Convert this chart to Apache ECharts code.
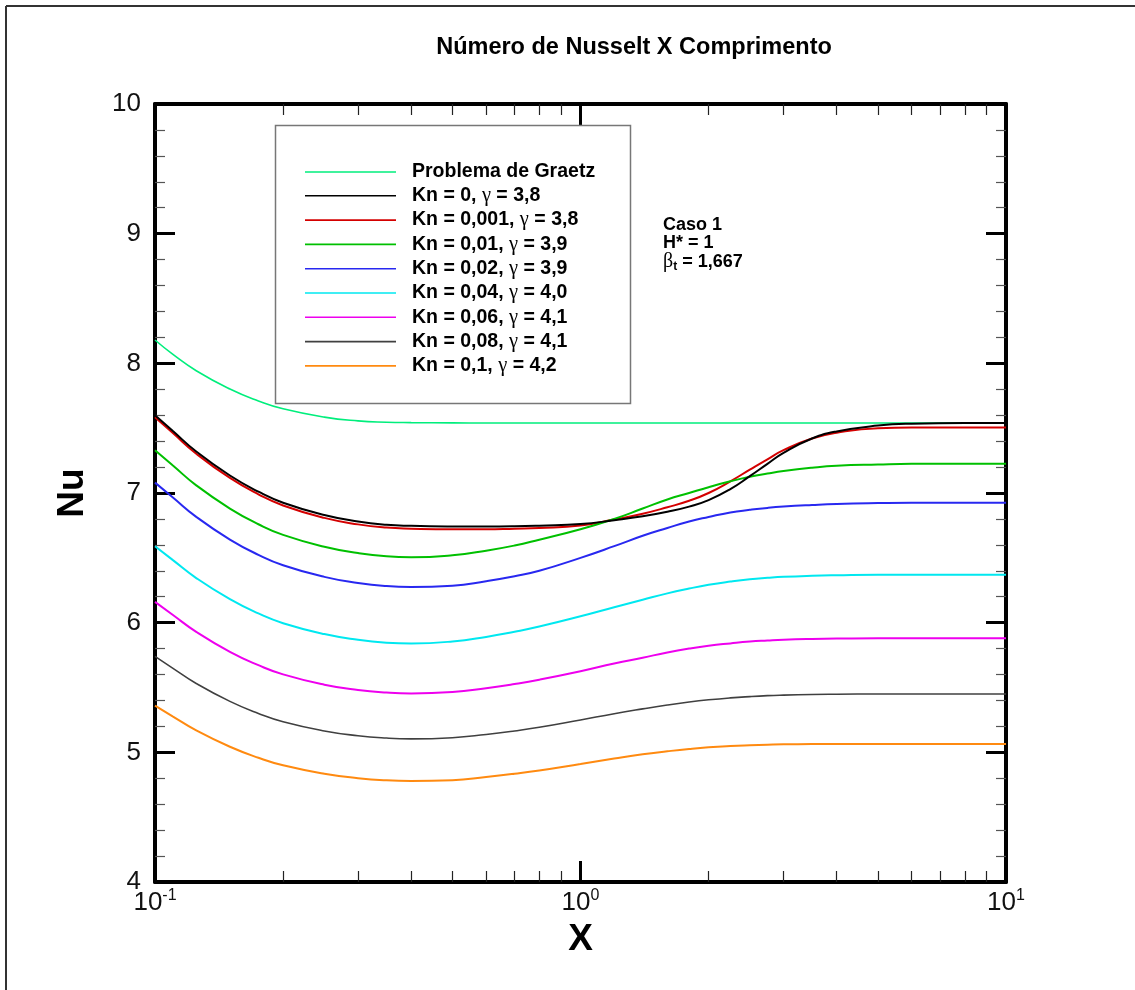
<!DOCTYPE html>
<html>
<head>
<meta charset="utf-8">
<script src="https://cdn.jsdelivr.net/npm/echarts@6/dist/echarts.min.js"></script>
<style>
  html, body { margin: 0; padding: 0; background: #ffffff; }
  #chart { width: 1135px; height: 990px; }
</style>
</head>
<body>
<div id="chart"></div>
<script>
// Axial positions X (log scale) shared by every curve
const xValues = [0.1, 0.11, 0.125, 0.15, 0.175, 0.2, 0.25, 0.3, 0.35, 0.4, 0.5, 0.6, 0.7, 0.8, 1,
                 1.2, 1.4, 1.6, 1.8, 2, 2.25, 2.5, 2.75, 3, 3.5, 4, 5, 6, 8, 10];

// Local Nusselt number for each case
const nuGraetz = [8.18, 8.071, 7.943, 7.802, 7.71, 7.649, 7.585, 7.556, 7.546, 7.543, 7.541, 7.54, 7.54, 7.54, 7.54,
                  7.54, 7.54, 7.54, 7.54, 7.54, 7.54, 7.54, 7.54, 7.54, 7.54, 7.54, 7.54, 7.54, 7.54, 7.54];
const nuKn0    = [7.60, 7.48, 7.32, 7.135, 7.01, 6.925, 6.83, 6.78, 6.755, 6.747, 6.742, 6.741, 6.743, 6.748, 6.76,
                  6.79, 6.82, 6.855, 6.895, 6.945, 7.03, 7.13, 7.225, 7.31, 7.42, 7.475, 7.52, 7.535, 7.54, 7.54];
const nuKn0001 = [7.585, 7.464, 7.303, 7.116, 6.99, 6.904, 6.808, 6.758, 6.733, 6.725, 6.72, 6.72, 6.725, 6.73, 6.75,
                  6.795, 6.84, 6.89, 6.94, 7.00, 7.09, 7.18, 7.26, 7.33, 7.42, 7.465, 7.50, 7.505, 7.505, 7.505];
const nuKn001  = [7.33, 7.214, 7.059, 6.88, 6.759, 6.677, 6.585, 6.537, 6.512, 6.505, 6.52, 6.555, 6.595, 6.64, 6.72,
                  6.80, 6.88, 6.95, 7.00, 7.045, 7.09, 7.125, 7.15, 7.17, 7.195, 7.21, 7.22, 7.225, 7.225, 7.225];
const nuKn002  = [7.08, 6.967, 6.816, 6.641, 6.523, 6.443, 6.353, 6.306, 6.282, 6.275, 6.285, 6.32, 6.358, 6.40, 6.50,
                  6.59, 6.67, 6.73, 6.78, 6.815, 6.85, 6.87, 6.885, 6.895, 6.907, 6.915, 6.922, 6.925, 6.925, 6.925];
const nuKn004  = [6.59, 6.484, 6.344, 6.181, 6.071, 5.996, 5.912, 5.868, 5.846, 5.84, 5.855, 5.89, 5.93, 5.97, 6.049,
                  6.119, 6.177, 6.226, 6.263, 6.292, 6.317, 6.335, 6.346, 6.354, 6.362, 6.366, 6.37, 6.37, 6.37, 6.37];
const nuKn006  = [6.16, 6.061, 5.929, 5.775, 5.672, 5.601, 5.522, 5.481, 5.461, 5.454, 5.465, 5.495, 5.527, 5.56, 5.625,
                  5.685, 5.73, 5.77, 5.80, 5.822, 5.84, 5.854, 5.862, 5.868, 5.874, 5.877, 5.88, 5.88, 5.88, 5.88];
const nuKn008  = [5.74, 5.65, 5.531, 5.393, 5.30, 5.236, 5.165, 5.128, 5.11, 5.104, 5.113, 5.138, 5.165, 5.193, 5.25,
                  5.298, 5.335, 5.365, 5.388, 5.405, 5.42, 5.43, 5.437, 5.441, 5.446, 5.448, 5.45, 5.45, 5.45, 5.45];
const nuKn01   = [5.36, 5.278, 5.169, 5.043, 4.958, 4.90, 4.835, 4.801, 4.784, 4.779, 4.785, 4.81, 4.835, 4.86, 4.91,
                  4.952, 4.985, 5.008, 5.026, 5.039, 5.049, 5.055, 5.059, 5.062, 5.064, 5.065, 5.065, 5.065, 5.065, 5.065];

const seriesNames = [
  'Problema de Graetz',
  'Kn = 0, γ = 3,8',
  'Kn = 0,001, γ = 3,8',
  'Kn = 0,01, γ = 3,9',
  'Kn = 0,02, γ = 3,9',
  'Kn = 0,04, γ = 4,0',
  'Kn = 0,06, γ = 4,1',
  'Kn = 0,08, γ = 4,1',
  'Kn = 0,1, γ = 4,2'
];
const seriesValues = [nuGraetz, nuKn0, nuKn0001, nuKn001, nuKn002, nuKn004, nuKn006, nuKn008, nuKn01];
const seriesColors = ['#00ee7c', '#000000', '#d40000', '#00c000', '#2828f0', '#00e8f0', '#ee00ee', '#404040', '#ff8a10'];
const seriesWidths = [1.6, 2, 2, 2, 2, 2, 2, 1.6, 2];

// Axis ranges; X minor ticks at 2..9 of each decade
const xMin = 0.1, xMax = 10;
const yMin = 4, yMax = 10;
const minorX = [];
[0.1, 1].forEach(function (d) {
  for (let k = 2; k <= 9; k++) minorX.push(+(k * d).toFixed(2));
});

const FONT = '"Liberation Sans", Arial, Helvetica, sans-serif';
const SERIF = '"Liberation Serif", "DejaVu Serif", serif';

const chart = echarts.init(document.getElementById('chart'), null, { renderer: 'canvas' });

const axisLineStyle = { color: '#000', width: 4 };

function xAxisBase(position) {
  return {
    type: 'log',
    logBase: 10,
    min: xMin,
    max: xMax,
    position: position,
    gridIndex: 0,
    splitLine: { show: false },
    axisLine: { show: true, lineStyle: axisLineStyle }
  };
}

const xAxes = [
  Object.assign(xAxisBase('bottom'), {
    name: 'X',
    nameLocation: 'middle',
    nameGap: 23,
    nameTextStyle: { fontFamily: FONT, fontWeight: 'bold', fontSize: 37, color: '#000' },
    axisTick: { show: true, inside: true, length: 21, lineStyle: { color: '#000', width: 3 } },
    axisLabel: {
      show: true,
      margin: 6,
      formatter: function (v) {
        return '10{s|' + Math.round(Math.log10(v)) + '}';
      },
      fontFamily: FONT,
      fontSize: 26,
      color: '#111',
      rich: {
        s: { fontFamily: FONT, fontSize: 16, color: '#111', padding: [0, 0, 14, 0] }
      }
    }
  }),
  Object.assign(xAxisBase('bottom'), {
    axisLine: { show: false },
    axisTick: { show: true, inside: true, length: 11, customValues: minorX, lineStyle: { color: '#222', width: 1.2 } },
    axisLabel: { show: false }
  }),
  Object.assign(xAxisBase('top'), {
    axisTick: { show: true, inside: true, length: 21, lineStyle: { color: '#000', width: 3 } },
    axisLabel: { show: false }
  }),
  Object.assign(xAxisBase('top'), {
    axisLine: { show: false },
    axisTick: { show: true, inside: true, length: 11, customValues: minorX, lineStyle: { color: '#222', width: 1.2 } },
    axisLabel: { show: false }
  })
];

function yAxisBase(position) {
  return {
    type: 'value',
    min: yMin,
    max: yMax,
    interval: 1,
    position: position,
    gridIndex: 0,
    splitLine: { show: false },
    axisLine: { show: true, lineStyle: axisLineStyle },
    axisTick: { show: true, inside: true, length: 20, lineStyle: { color: '#000', width: 3 } },
    minorTick: { show: true, splitNumber: 5, length: 10, lineStyle: { color: '#555', width: 1.2 } }
  };
}

const yAxes = [
  Object.assign(yAxisBase('left'), {
    name: 'Nu',
    nameLocation: 'middle',
    nameRotate: 90,
    nameGap: 64,
    nameTextStyle: { fontFamily: FONT, fontWeight: 'bold', fontSize: 37, color: '#000' },
    axisLabel: { show: true, margin: 14, fontFamily: FONT, fontSize: 26, color: '#111' }
  }),
  Object.assign(yAxisBase('right'), {
    axisLabel: { show: false }
  })
];

const series = seriesNames.map(function (name, i) {
  return {
    name: name,
    type: 'line',
    xAxisIndex: 0,
    yAxisIndex: 0,
    smooth: 0.5,
    symbol: 'none',
    showSymbol: false,
    z: 2 + (i === 1 ? 1 : 0),
    lineStyle: { color: seriesColors[i], width: seriesWidths[i] },
    itemStyle: { color: seriesColors[i] },
    data: xValues.map(function (x, j) { return [x, seriesValues[i][j]]; })
  };
});

chart.setOption({
  animation: false,
  backgroundColor: '#ffffff',
  title: {
    text: 'Número de Nusselt X Comprimento',
    left: 629,
    top: 31,
    textAlign: 'center',
    textStyle: { fontFamily: FONT, fontWeight: 'bold', fontSize: 23.5, color: '#000' }
  },
  grid: { left: 155, right: 129, top: 104, bottom: 108, containLabel: false },
  xAxis: xAxes,
  yAxis: yAxes,
  legend: {
    orient: 'vertical',
    left: 305,
    top: 162,
    padding: 0,
    icon: 'rect',
    itemWidth: 91,
    itemHeight: 1.6,
    itemGap: 3.3,
    z: 10,
    data: seriesNames,
    formatter: function (name) {
      return name.replace('γ', '{g|γ}');
    },
    textStyle: {
      fontFamily: FONT,
      fontWeight: 'bold',
      fontSize: 19.5,
      lineHeight: 20,
      color: '#000',
      padding: [0, 0, 0, 11],
      rich: {
        g: { fontFamily: SERIF, fontWeight: 'normal', fontSize: 20.5, lineHeight: 20, color: '#000' }
      }
    }
  },
  graphic: {
    elements: [
      // page frame
      { type: 'line', z: 1, shape: { x1: 6, y1: 6, x2: 1135, y2: 6 }, style: { stroke: '#333', lineWidth: 2 } },
      { type: 'line', z: 1, shape: { x1: 6, y1: 6, x2: 6, y2: 990 }, style: { stroke: '#333', lineWidth: 2 } },
      // legend frame
      { type: 'rect', z: 8, shape: { x: 275.5, y: 125.5, width: 355, height: 278 }, style: { fill: '#ffffff', stroke: '#777', lineWidth: 1.5 } },
      // case annotation
      {
        type: 'text', z: 10, x: 663, y: 225,
        style: { text: 'Caso 1', font: 'bold 18px ' + FONT, fill: '#000', verticalAlign: 'middle' }
      },
      {
        type: 'text', z: 10, x: 663, y: 243,
        style: { text: 'H* = 1', font: 'bold 18px ' + FONT, fill: '#000', verticalAlign: 'middle' }
      },
      {
        type: 'text', z: 10, x: 663, y: 262,
        style: {
          text: '{b|β}{t|t}{v| = 1,667}',
          verticalAlign: 'middle',
          rich: {
            b: { fontFamily: SERIF, fontSize: 20, fontWeight: 'normal', fill: '#000' },
            t: { fontFamily: FONT, fontSize: 12, fontWeight: 'bold', fill: '#000', padding: [9, 0, 0, 0] },
            v: { fontFamily: FONT, fontSize: 18, fontWeight: 'bold', fill: '#000' }
          }
        }
      }
    ]
  },
  series: series
});
</script>
</body>
</html>
